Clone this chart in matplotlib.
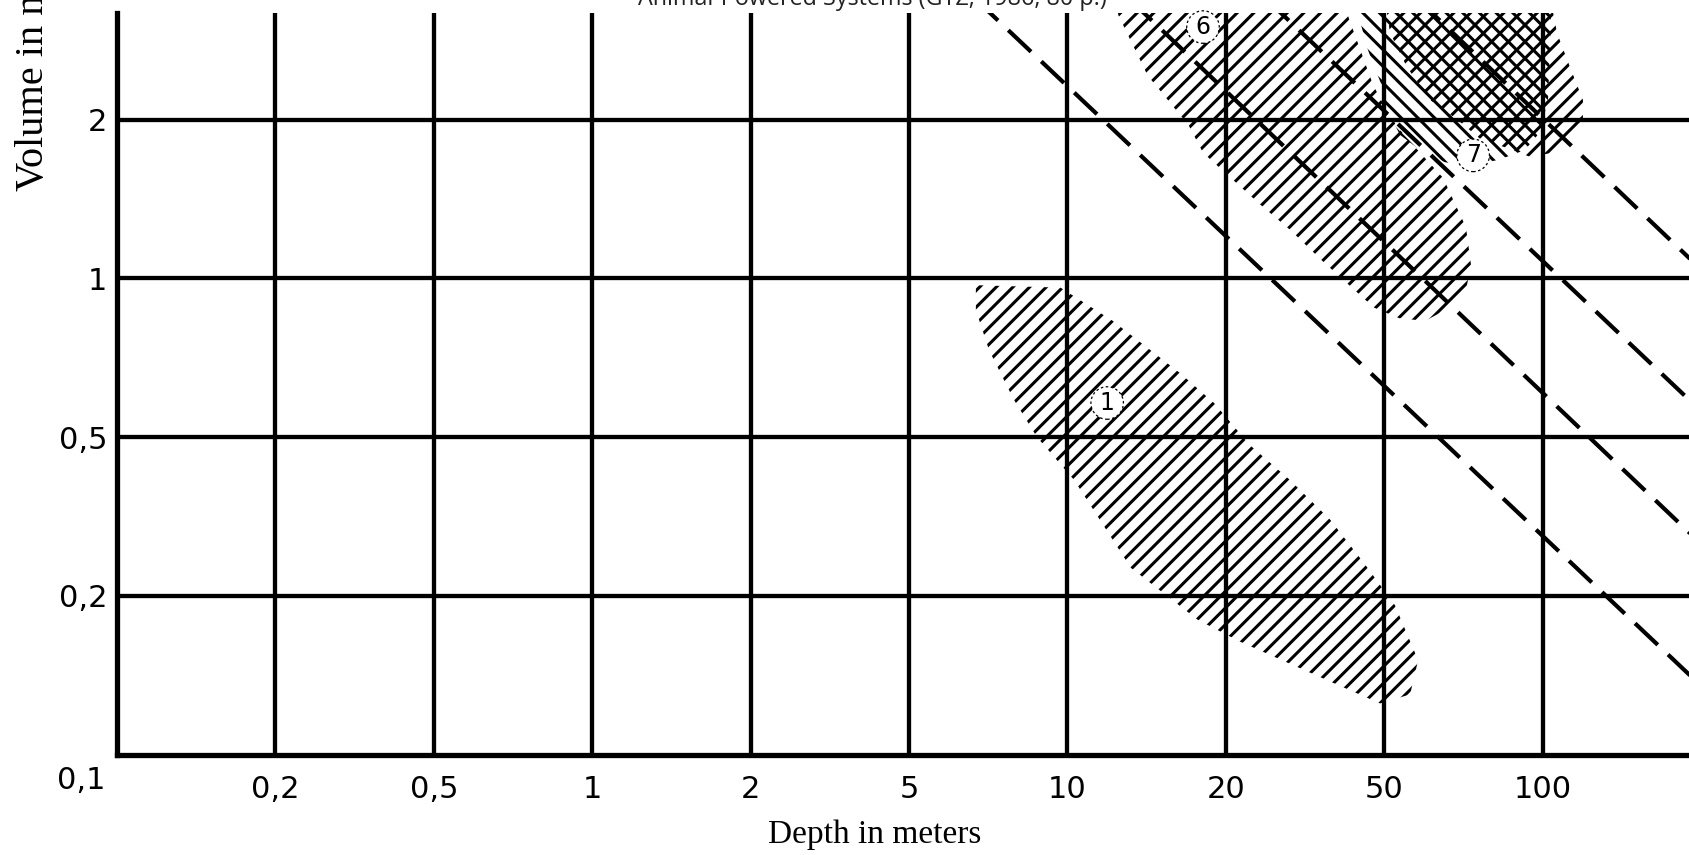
import numpy as np
import matplotlib
matplotlib.use("Agg")
import matplotlib.pyplot as plt
from matplotlib.patches import Polygon

# ---------------- data ----------------
title = "Animal-Powered Systems (GTZ, 1986, 80 p.)"
x_label = "Depth in meters"
y_label = "Volume in m³/h"

# 1-2-5 sequence axes (equally spaced)
x_scale_ticks = [0.1, 0.2, 0.5, 1, 2, 5, 10, 20, 50, 100, 200, 500]
y_scale_ticks = [0.1, 0.2, 0.5, 1, 2, 5, 10]

x_tick_values = [0.2, 0.5, 1, 2, 5, 10, 20, 50, 100]
x_tick_labels = ["0,2", "0,5", "1", "2", "5", "10", "20", "50", "100"]
y_tick_values = [0.2, 0.5, 1, 2]
y_tick_labels = ["0,2", "0,5", "1", "2"]
origin_label = "0,1"

# dashed lines (depth, volume) start / end
line_depth_start = [5.6, 11.0, 20.0, 48.0]
line_vol_start = [5.0, 5.0, 5.0, 5.0]
line_depth_end = [200.0, 200.0, 200.0, 200.0]
line_vol_end = [0.135, 0.27, 0.56, 1.04]

# hatched region (1)
r1_depth = [6.7, 9.7, 12.2, 16.4, 19.0, 23.0, 29.0, 36.6, 44.7, 52.4, 58.0, 56.0,
            48.8, 37.0, 21.6, 17.7, 13.2, 10.3, 8.75, 7.9, 7.1, 6.7]
r1_vol = [0.97, 0.96, 0.83, 0.66, 0.58, 0.477, 0.39, 0.31, 0.24, 0.192, 0.151, 0.130,
          0.125, 0.137, 0.164, 0.18, 0.235, 0.39, 0.5, 0.59, 0.73, 0.87]

# hatched region (6)
r6_depth = [12.05, 12.5, 14.2, 17.0, 18.1, 24.4, 29.2, 34.9, 47.1, 53.4, 59.8, 70.9,
            73.1, 71.5, 64.7, 54.5, 51.1, 46.9, 40.5, 38.7]
r6_vol = [4.74, 3.65, 2.58, 1.95, 1.73, 1.38, 1.23, 1.08, 0.88, 0.84, 0.83, 0.91,
          1.06, 1.25, 1.55, 1.87, 2.05, 2.44, 3.65, 4.74]

# hatched region (7)
r7_depth = [38.7, 42.9, 45.5, 49.0, 50.6, 53.6, 58.5, 65.2, 72.8, 82.9, 92.5, 98.8,
            102.4, 103.3, 104.2]
r7_vol = [4.74, 3.70, 2.99, 2.47, 2.11, 1.87, 1.75, 1.66, 1.63, 1.68, 1.75, 1.89,
          2.24, 2.99, 4.74]

# hatched region (upper right, label outside the view)
r8_depth = [47.4, 50.6, 51.3, 55.2, 61.1, 68.8, 76.0, 87.8, 94.5, 104.7, 112.7, 119.3,
            119.3, 112.7, 106.5, 101.0]
r8_vol = [4.74, 3.70, 3.30, 2.71, 2.24, 2.0, 1.84, 1.75, 1.70, 1.73, 1.84, 1.94,
          2.24, 2.71, 3.30, 4.74]

region_labels = ["1", "6", "7"]
region_label_depth = [11.9, 18.1, 73.8]
region_label_vol = [0.58, 3.41, 1.71]


# ---------------- scale ----------------
def seq_scale(ticks):
    lt = np.log10(np.asarray(ticks, dtype=float))
    idx = np.arange(len(lt), dtype=float)

    def fwd(v):
        v = np.clip(np.asarray(v, dtype=float), 1e-12, None)
        lv = np.log10(v)
        out = np.interp(lv, lt, idx)
        out = np.where(lv < lt[0], (lv - lt[0]) / (lt[1] - lt[0]), out)
        out = np.where(lv > lt[-1], idx[-1] + (lv - lt[-1]) / (lt[-1] - lt[-2]), out)
        return out

    def inv(i):
        i = np.asarray(i, dtype=float)
        out = np.interp(i, idx, lt)
        out = np.where(i < 0, lt[0] + i * (lt[1] - lt[0]), out)
        out = np.where(i > idx[-1], lt[-1] + (i - idx[-1]) * (lt[-1] - lt[-2]), out)
        return 10 ** out

    return fwd, inv


xf, xi = seq_scale(x_scale_ticks)
yf, yi = seq_scale(y_scale_ticks)

# ---------------- figure ----------------
DPI = 100
W, H = 1689, 855
plt.rcParams["hatch.linewidth"] = 2.2
plt.rcParams["font.family"] = ["DejaVu Sans"]

fig = plt.figure(figsize=(W / DPI, H / DPI), dpi=DPI, facecolor="white")
left_px, right_px, bottom_px, top_px = 117, 1701, 754.5, 13
ax = fig.add_axes([left_px / W, (H - bottom_px) / H,
                   (right_px - left_px) / W, (bottom_px - top_px) / H])
ax.set_xscale("function", functions=(xf, xi))
ax.set_yscale("function", functions=(yf, yi))
ax.set_xlim(0.1, 200)
ax.set_ylim(0.1, float(yi((bottom_px - top_px) / 158.75)))

for dep, vol, hatch in [(r1_depth, r1_vol, "//"), (r6_depth, r6_vol, "//"),
                        (r7_depth, r7_vol, "\\\\"), (r8_depth, r8_vol, "//")]:
    poly = Polygon(np.column_stack([dep, vol]), closed=True, facecolor="none",
                   edgecolor="black", linewidth=0, hatch=hatch, zorder=1)
    ax.add_patch(poly)

for d0, v0, d1, v1 in zip(line_depth_start, line_vol_start, line_depth_end, line_vol_end):
    ax.plot([d0, d1], [v0, v1], color="black", lw=3.0,
            linestyle=(0, (7.5, 3.4)), solid_capstyle="butt", zorder=3)

for lab, d, v in zip(region_labels, region_label_depth, region_label_vol):
    ax.text(d, v, lab, ha="center", va="center", fontsize=17, color="black", zorder=4,
            bbox=dict(boxstyle="circle,pad=0.18", fc="white", ec="black",
                      lw=0.9, ls=(0, (2, 2))))

ax.set_xticks(x_tick_values, x_tick_labels)
ax.set_yticks(y_tick_values, y_tick_labels)
ax.minorticks_off()
ax.tick_params(axis="both", length=0, labelsize=22, colors="black")
ax.tick_params(axis="x", pad=15)
ax.tick_params(axis="y", pad=7)
ax.grid(True, color="black", lw=3.1, zorder=2)
ax.set_axisbelow(False)
for s in ["top", "right"]:
    ax.spines[s].set_visible(False)
for s in ["left", "bottom"]:
    ax.spines[s].set_linewidth(3.8)
    ax.spines[s].set_zorder(5)

ax.annotate(origin_label, xy=(0.1, 0.1), xytext=(-8, -19), textcoords="offset points",
            ha="right", va="center", fontsize=22, annotation_clip=False)

fig.text(875 / W, (H - 843) / H, x_label, ha="center", va="baseline",
         fontsize=24, family=["Liberation Serif"])
fig.text(43 / W, (H - 191) / H, y_label, rotation=90, rotation_mode="anchor",
         ha="left", va="baseline", fontsize=29, family=["Liberation Serif"])
fig.text(872 / W, (H - 5) / H, title, ha="center", va="baseline",
         fontsize=16.8, color="#222222", family=["Open Sans", "DejaVu Sans"])

fig.savefig("out.png", dpi=DPI, facecolor="white")
